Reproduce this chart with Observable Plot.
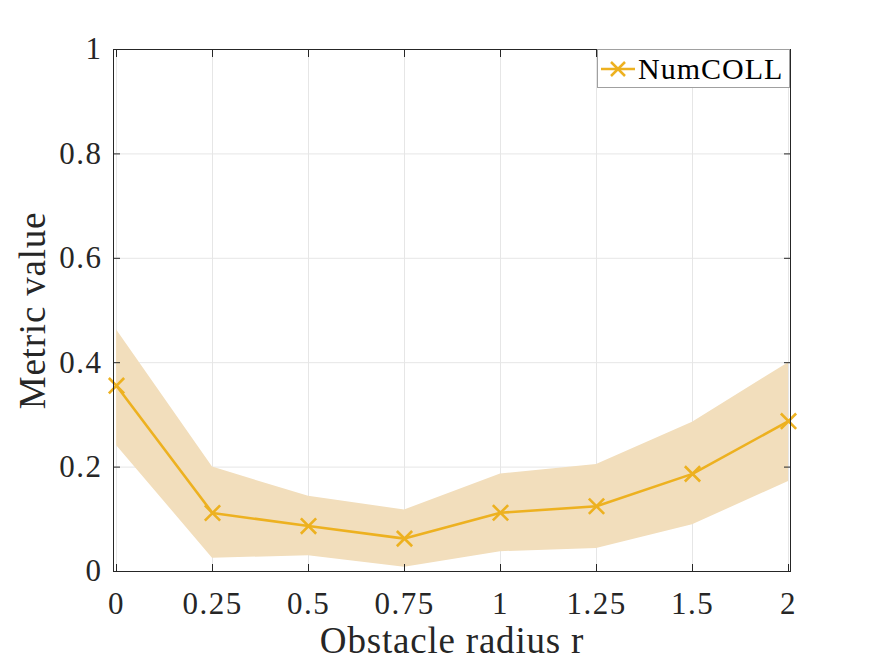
<!DOCTYPE html>
<html>
<head>
<meta charset="utf-8">
<script src="https://cdn.jsdelivr.net/npm/d3@7"></script>
<script src="https://cdn.jsdelivr.net/npm/@observablehq/plot@0.6"></script>
<style>
  html, body { margin: 0; padding: 0; background: #fff; }
  #wrap { position: relative; width: 872px; height: 664px; }
  #chart svg, #chart svg text { font-family: "Liberation Serif", "Times New Roman", serif !important; }
  #chart svg g[aria-label$="tick label"] { font-size: 31px; letter-spacing: 1.5px; }
  #chart svg g[aria-label="text"] { letter-spacing: 0.8px; }
  #legend {
    position: absolute; left: 597px; top: 49px; width: 193px; height: 39px;
    border: 1px solid #a0a0a0; background: #fff; box-sizing: border-box;
    font-family: "Liberation Serif", "Times New Roman", serif; font-size: 30px; letter-spacing: 1px; color: #000;
    display: flex; align-items: center;
  }
  #legend svg { margin-left: 3px; margin-right: 3px; }
</style>
</head>
<body>
<div id="wrap">
  <div id="chart"></div>
  <div id="legend">
    <svg width="34" height="20"><line x1="0" y1="10" x2="34" y2="10" stroke="#EDB120" stroke-width="2.5"/><path d="M10,3 L24,17 M24,3 L10,17" stroke="#EDB120" stroke-width="2.5"/></svg>
    <span>NumCOLL</span>
  </div>
</div>
<script>
const radii = ["0", "0.25", "0.5", "0.75", "1", "1.25", "1.5", "2"];
const meanVals = [0.356, 0.112, 0.087, 0.063, 0.1125, 0.125, 0.187, 0.288];
const lowerVals = [0.2415, 0.0255, 0.030, 0.008, 0.038, 0.044, 0.0895, 0.1725];
const upperVals = [0.463, 0.200, 0.144, 0.118, 0.1866, 0.205, 0.286, 0.400];
const yTicks = [0, 0.2, 0.4, 0.6, 0.8, 1];

const data = radii.map((r, i) => ({r, mean: meanVals[i], lo: lowerVals[i], hi: upperVals[i]}));

const font = '"Liberation Serif", "Times New Roman", serif';
const axisColor = "#262626";

const chart = Plot.plot({
  width: 872,
  height: 664,
  marginLeft: 113,
  marginRight: 82,
  marginTop: 49,
  marginBottom: 93,
  style: {fontFamily: font, fontSize: "31px", color: axisColor, background: "#fff", overflow: "visible"},
  x: {type: "point", domain: radii, padding: 0},
  y: {domain: [0, 1]},
  marks: [
    Plot.gridX(radii, {stroke: "#e6e6e6", strokeOpacity: 1}),
    Plot.gridY(yTicks, {stroke: "#e6e6e6", strokeOpacity: 1}),
    Plot.areaY(data, {x: "r", y1: "lo", y2: "hi", fill: "#F2DEBC", fillOpacity: 1}),
    Plot.line(data, {x: "r", y: "mean", stroke: "#EDB120", strokeWidth: 2.6}),
    Plot.dot(data, {x: "r", y: "mean", symbol: "times", r: 7, stroke: "#EDB120", strokeWidth: 2.6}),
    Plot.frame({stroke: axisColor, strokeWidth: 1}),
    Plot.axisX(radii, {anchor: "bottom", tickSize: -7, tickPadding: 27, label: null, stroke: axisColor, fontSize: 31}),
    Plot.axisX(radii, {anchor: "top", tickSize: -7, tickFormat: () => "", label: null, stroke: axisColor}),
    Plot.axisY(yTicks, {anchor: "left", tickSize: -7, tickPadding: 18, tickFormat: d => String(d), label: null, stroke: axisColor, fontSize: 31}),
    Plot.axisY(yTicks, {anchor: "right", tickSize: -7, tickFormat: () => "", label: null, stroke: axisColor}),
    Plot.text(["Obstacle radius r"], {frameAnchor: "bottom", dy: 81, fontSize: 37, fill: axisColor, lineAnchor: "bottom", textAnchor: "middle"}),
    Plot.text(["Metric value"], {frameAnchor: "left", dx: -69, rotate: -90, fontSize: 37, fill: axisColor, lineAnchor: "bottom", textAnchor: "middle"})
  ]
});
document.getElementById("chart").appendChild(chart);
</script>
</body>
</html>
